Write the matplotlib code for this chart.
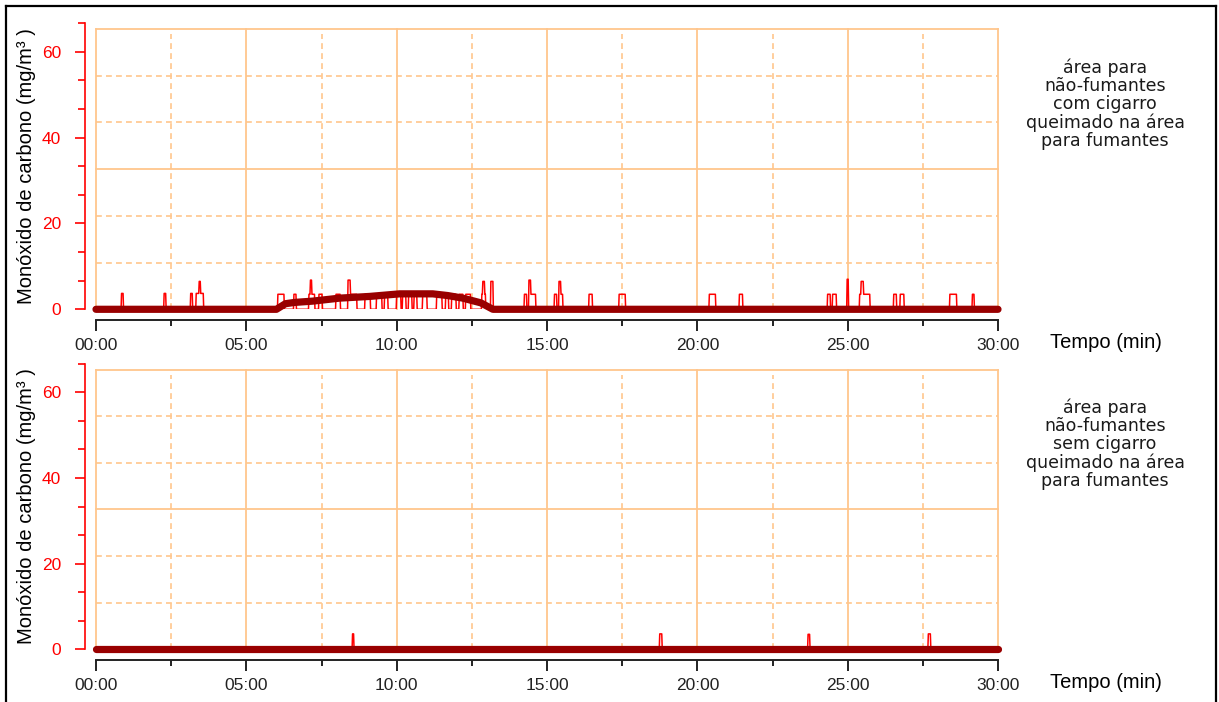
import numpy as np
from matplotlib import pyplot as plt
from matplotlib.lines import Line2D
from matplotlib.ticker import MultipleLocator, FixedLocator

plt.rcParams['font.family'] = ['Liberation Sans', 'DejaVu Sans']

# x axis (minutes)
x_ticks = [0, 5, 10, 15, 20, 25, 30]
x_labels = ['00:00', '05:00', '10:00', '15:00', '20:00', '25:00', '30:00']
y_ticks = [0, 20, 40, 60]

# instantaneous CO readings, as pulses: start (min), end (min), level (mg/m3)
top_start = [0.84, 2.26, 3.14, 3.33, 3.42, 6.04, 6.58, 7.08, 7.13, 7.40, 7.98,
             8.38, 8.45, 8.95, 9.33, 9.60, 10.00, 10.20, 10.40, 10.58, 10.86,
             11.32, 11.62, 11.82, 12.08, 12.30, 12.82, 12.86, 13.12, 14.25,
             14.40, 14.46, 15.25, 15.40, 15.46, 16.40, 17.40, 20.40, 21.40,
             24.32, 24.50, 24.98, 25.40, 25.44, 26.52, 26.75, 28.40, 29.15]
top_end = [0.90, 2.33, 3.20, 3.58, 3.48, 6.26, 6.66, 7.28, 7.18, 7.52, 8.12,
           8.45, 8.68, 9.12, 9.50, 9.70, 10.14, 10.30, 10.50, 10.68, 11.00,
           11.50, 11.72, 11.98, 12.20, 12.45, 12.95, 12.92, 13.20, 14.32,
           14.46, 14.62, 15.32, 15.46, 15.52, 16.50, 17.60, 20.60, 21.50,
           24.42, 24.62, 25.03, 25.74, 25.52, 26.62, 26.88, 28.62, 29.20]
top_level = [3.7, 3.7, 3.7, 3.7, 6.5, 3.5, 3.5, 3.5, 6.8, 3.5, 3.5,
             6.8, 3.5, 3.5, 3.5, 3.5, 3.5, 3.5, 3.5, 3.5, 3.5,
             3.5, 3.5, 3.5, 3.5, 3.5, 3.5, 6.5, 6.5, 3.5,
             6.8, 3.5, 3.5, 6.5, 3.5, 3.5, 3.5, 3.5, 3.5,
             3.5, 3.5, 7.0, 3.5, 6.5, 3.5, 3.5, 3.5, 3.5]

bot_start = [8.52, 18.74, 23.68, 27.68]
bot_end = [8.58, 18.82, 23.74, 27.76]
bot_level = [3.6, 3.6, 3.5, 3.6]

# moving average (thick line)
top_avg_t = [0, 6.0, 6.3, 6.6, 7.2, 8.1, 9.1, 10.1, 11.2, 11.7, 12.2, 12.8, 13.2, 30]
top_avg_v = [0, 0, 1.3, 1.6, 1.9, 2.6, 3.0, 3.6, 3.6, 3.2, 2.6, 1.5, 0, 0]
bot_avg_t = [0, 30]
bot_avg_v = [0, 0]

captions = ['área para\nnão-fumantes\ncom cigarro\nqueimado na área\npara fumantes',
            'área para\nnão-fumantes\nsem cigarro\nqueimado na área\npara fumantes']

W, H = 1219, 702
GRID = '#ffc68c'
Y_TOP = 20 / 3 * 10
FRAME_TOP = 65.3


def pulses_to_series(starts, ends, levels):
    t = np.linspace(0, 30, 1801)
    v = np.zeros_like(t)
    for s, e, lv in zip(starts, ends, levels):
        mask = (t >= s) & (t <= e)
        v[mask] = np.maximum(v[mask], lv)
    return t, v


def draw_panel(ax, starts, ends, levels, avg_t, avg_v):
    ax.set_xlim(0, 30)
    ax.set_ylim(0, Y_TOP)

    # orange frame and grid
    for k in range(7):
        x = k * 5
        ax.plot([x, x], [0, FRAME_TOP], color=GRID, lw=1.3, clip_on=False, zorder=1)
        if k < 6:
            ax.plot([x + 2.5, x + 2.5], [0, FRAME_TOP - 1.2], color=GRID, lw=1.2,
                    ls=(0, (3.5, 2.5)), zorder=1)
    for k in range(1, 7):
        y = FRAME_TOP * k / 6
        if k % 3 == 0:
            ax.plot([0, 30], [y, y], color=GRID, lw=1.3, clip_on=False, zorder=1)
        else:
            ax.plot([0, 30], [y, y], color=GRID, lw=1.2, ls=(0, (3.5, 2.5)), zorder=1)

    t, v = pulses_to_series(starts, ends, levels)
    ax.plot(t, v, color='#ff0000', lw=1.1, zorder=3)
    ax.plot(avg_t, avg_v, color='#990000', lw=5.2, solid_capstyle='round',
            clip_on=False, zorder=4)

    for s in ['top', 'right']:
        ax.spines[s].set_visible(False)
    ax.spines['left'].set_position(('outward', 8))
    ax.spines['left'].set_color('#ff0000')
    ax.spines['left'].set_linewidth(1.2)
    ax.spines['bottom'].set_position(('outward', 8))
    ax.spines['bottom'].set_color('#222222')
    ax.spines['bottom'].set_linewidth(1.4)

    ax.yaxis.set_major_locator(FixedLocator(y_ticks))
    ax.yaxis.set_minor_locator(MultipleLocator(20 / 3))
    ax.tick_params(axis='y', which='major', colors='#ff0000', length=7, width=1.2,
                   labelsize=12.5, pad=10)
    ax.tick_params(axis='y', which='minor', colors='#ff0000', length=5, width=1.2)

    ax.xaxis.set_major_locator(FixedLocator(x_ticks))
    ax.xaxis.set_minor_locator(MultipleLocator(2.5))
    ax.set_xticklabels(x_labels)
    ax.tick_params(axis='x', which='major', colors='#222222', length=8, width=1.4,
                   labelsize=12.5, pad=5)
    ax.tick_params(axis='x', which='minor', colors='#222222', length=4, width=1.4)
    ax.set_facecolor('none')


fig = plt.figure(figsize=(W / 100, H / 100), dpi=100)

# pixel rows: y of value 0, y of axis top, caption centre, "Tempo" centre
panels = [
    (309.3, 23.1, top_start, top_end, top_level, top_avg_t, top_avg_v, 104, 343),
    (649.3, 363.8, bot_start, bot_end, bot_level, bot_avg_t, bot_avg_v, 444, 683),
]
for i, (y0, y1, st, en, lv, at, av, cap_y, tempo_y) in enumerate(panels):
    ax = fig.add_axes([96 / W, 1 - y0 / H, 902 / W, (y0 - y1) / H])
    draw_panel(ax, st, en, lv, at, av)
    fig.text(27 / W, 1 - (y0 + y1) / 2 / H, 'Monóxido de carbono (mg/m³ )',
             rotation=90, ha='center', va='center', fontsize=14.5, color='black')
    fig.text(1050 / W, 1 - tempo_y / H, 'Tempo (min)', ha='left', va='center',
             fontsize=14.5, color='black')
    fig.text(1105 / W, 1 - cap_y / H, captions[i],
             ha='center', va='center', fontsize=12.5, family=['DejaVu Sans'],
             linespacing=1.0, color='#1a1a1a')

# outer border
fig.add_artist(Line2D([6 / W, 6 / W], [0, 1 - 6 / H], color='black', lw=1.6))
fig.add_artist(Line2D([6 / W, 1216 / W], [1 - 6 / H, 1 - 6 / H], color='black', lw=1.6))
fig.add_artist(Line2D([1216 / W, 1216 / W], [0, 1 - 6 / H], color='black', lw=1.6))

plt.savefig('out.png', dpi=100)
